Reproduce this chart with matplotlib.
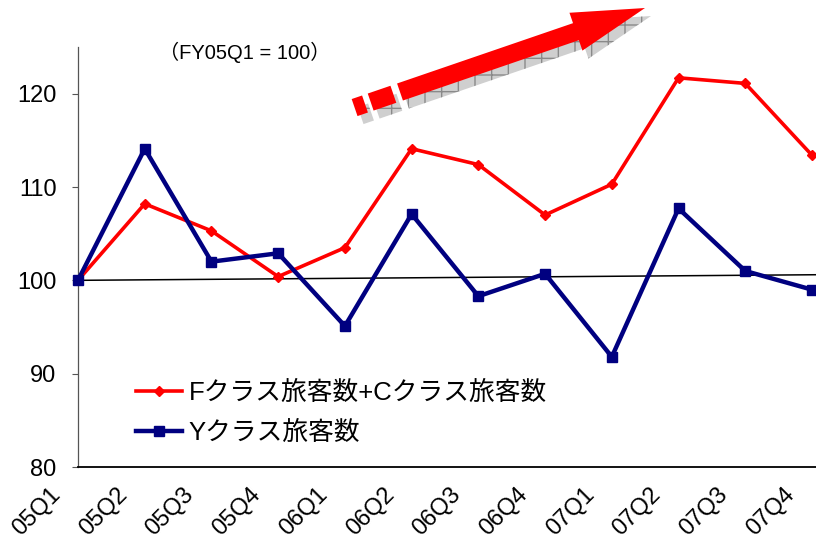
import numpy as np
import matplotlib
matplotlib.use("Agg")
import matplotlib.pyplot as plt
from matplotlib.patches import Polygon
from matplotlib import transforms

quarters = ["05Q1", "05Q2", "05Q3", "05Q4", "06Q1", "06Q2",
            "06Q3", "06Q4", "07Q1", "07Q2", "07Q3", "07Q4"]
fc_pax = [100.0, 108.2, 105.3, 100.4, 103.5, 114.1,
          112.4, 107.0, 110.3, 121.7, 121.1, 113.4]
y_pax = [100.0, 114.1, 102.0, 102.9, 95.1, 107.1,
         98.3, 100.7, 91.8, 107.7, 101.0, 99.0]
trend = [100.0, 100.6]
fc_label = "Fクラス旅客数+Cクラス旅客数"
y_label = "Yクラス旅客数"
base_note = "（FY05Q1 = 100）"
yticks = [80, 90, 100, 110, 120]

W, H = 816, 548
FONT = ["Liberation Sans", "Noto Sans CJK JP", "DejaVu Sans"]
plt.rcParams["font.family"] = FONT

fig = plt.figure(figsize=(W / 100, H / 100), dpi=100)
ax = fig.add_axes([78 / W, (H - 467) / H, 1 - 78 / W, 420 / H])

x = np.arange(len(quarters))
ax.plot([x[0], x[-1] + 0.06], trend, color="black", lw=1.1, zorder=1)
ax.plot(x, fc_pax, color="#ff0000", lw=2.6, marker="D", ms=5.5,
        label=fc_label, zorder=2, clip_on=False)
ax.plot(x, y_pax, color="#000080", lw=3.2, marker="s", ms=7.5,
        label=y_label, zorder=3, clip_on=False)

ax.set_xlim(0, 11.06)
ax.set_ylim(80, 125)
ax.set_yticks(yticks)
ax.set_xticks(x)
ax.set_xticklabels(quarters, rotation=45, ha="right", va="top")
ax.tick_params(axis="y", length=4.5, width=0.8, color="#555555",
               labelsize=17, pad=11)
ax.tick_params(axis="x", length=0, labelsize=17, pad=12)
shift = transforms.ScaledTranslation(-13 / 100, 0, fig.dpi_scale_trans)
for lbl in ax.get_xticklabels():
    lbl.set_transform(lbl.get_transform() + shift)

for side in ("top", "right"):
    ax.spines[side].set_visible(False)
ax.spines["left"].set_color("#555555")
ax.spines["left"].set_linewidth(0.9)
ax.spines["bottom"].set_linewidth(1.3)

fig.text(245 / W, (H - 52) / H, base_note, fontsize=14.5,
         ha="center", va="center")

ax.legend(loc="upper left", bbox_to_anchor=(136 / W, (H - 381) / H),
          bbox_transform=fig.transFigure, frameon=False, fontsize=18.5,
          handlelength=1.8, handletextpad=0.25, labelspacing=0.62,
          borderpad=0, borderaxespad=0)

# rising arrow with a hatched drop shadow, drawn in figure pixels
px = transforms.Affine2D().scale(1 / W, 1 / H) + fig.transFigure
tail = np.array([400.0, 456.0])
tip = np.array([645.0, 540.0])
u = (tip - tail) / np.linalg.norm(tip - tail)
n = np.array([-u[1], u[0]])
half = 9.0
head_len, head_half = 73.0, 20.0
length = np.linalg.norm(tip - tail)


def bar(a, b):
    p0, p1 = tail + a * u, tail + b * u
    return [p0 + half * n, p1 + half * n, p1 - half * n, p0 - half * n]


def arrow():
    base = tail + (length - head_len) * u
    return [tail + half * n, base + half * n, base + head_half * n, tip,
            base - head_half * n, base - half * n, tail - half * n]


shapes = [bar(-48, -37), bar(-31, -7), arrow()]
offset = np.array([6.0, -8.0])
for pts in shapes:
    sh = Polygon(np.array(pts) + offset, closed=True, transform=px,
                 facecolor="#cfcfcf", edgecolor="#8a8a8a", hatch="+",
                 lw=0, zorder=5)
    fig.patches.append(sh)
for pts in shapes:
    fig.patches.append(Polygon(np.array(pts), closed=True, transform=px,
                               facecolor="#ff0000", edgecolor="none",
                               zorder=6))

fig.savefig("out.png", dpi=100)
